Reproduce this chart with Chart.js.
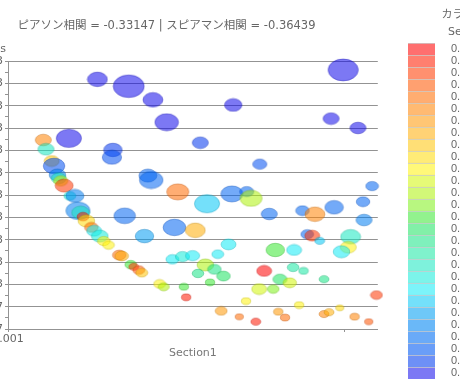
<!DOCTYPE html>
<html><head><meta charset="utf-8">
<script src="https://cdn.jsdelivr.net/npm/chart.js@4"></script>
<style>
html,body{margin:0;padding:0;background:#fff;overflow:hidden;width:460px;height:380px;position:relative}
#main{position:absolute;left:-46px;top:0}
#scale{position:absolute;left:400px;top:0}
</style></head><body>
<canvas id="main" width="435" height="380"></canvas>
<canvas id="scale" width="100" height="380"></canvas>
<script>
// ---- texts ----
const titleText = 'ピアソン相関 = -0.33147 | スピアマン相関 = -0.36439';
const xAxisTitle = 'Section1';
const yAxisTitle = 'Values';
const colorTitle = 'カラースケール';
const colorSubtitle = 'Section3';

// ---- tick labels ----
const xTickValues = [0.001, 0.011];
const xTickLabels = ['0.001', ''];
const yTickLabels = ['1.7E-7', '5.7E-7', '0.0013', '0.0023', '0.0033', '0.0043', '0.0053',
  '0.0063', '0.0073', '0.0083', '0.0093', '0.0103', '0.0113'];

// ---- series values ----
const xValues = [0.00366, 0.00459, 0.00531, 0.00572, 0.00281, 0.00672, 0.00205, 0.00213, 0.00412, 0.00409,
  0.00230, 0.00237, 0.00247, 0.00251, 0.00257, 0.00267, 0.00516, 0.00526, 0.00605, 0.01097,
  0.00770, 0.01061, 0.01141, 0.00849, 0.01183, 0.00284, 0.00299, 0.00308, 0.00316, 0.00323,
  0.00333, 0.00348, 0.00356, 0.00373, 0.00385, 0.00399, 0.00431, 0.00438, 0.00447, 0.00506,
  0.00465, 0.00474, 0.00489, 0.00498, 0.00551, 0.00563, 0.00623, 0.00630, 0.00595, 0.00657,
  0.00589, 0.00619, 0.00649, 0.00687, 0.00665, 0.00714, 0.00724, 0.00741, 0.00701, 0.00734,
  0.00692, 0.00766, 0.00810, 0.00823, 0.00877, 0.00976, 0.01013, 0.01070, 0.01156, 0.01159,
  0.00990, 0.01005, 0.01027, 0.01119, 0.01112, 0.01092, 0.00756, 0.00895, 0.00951, 0.00862,
  0.00948, 0.00979, 0.00909, 0.00938, 0.01040, 0.00847, 0.00889, 0.00808, 0.00966, 0.01087,
  0.00904, 0.00788, 0.00924, 0.00837, 0.01040, 0.01055, 0.01131, 0.01173, 0.01196];
const yValues = [11.18, 10.87, 10.26, 9.26, 8.54, 8.34, 8.46, 8.05, 8.02, 7.69,
  7.52, 7.30, 6.90, 6.75, 6.63, 6.42, 6.87, 6.67, 6.14, 11.60,
  10.03, 9.42, 9.00, 7.38, 6.40, 5.96, 5.96, 5.30, 5.21, 5.03,
  4.84, 4.55, 4.40, 4.16, 3.94, 3.76, 3.31, 3.27, 5.07, 4.16,
  2.88, 2.79, 2.64, 2.52, 2.02, 1.89, 1.89, 1.42, 4.55, 4.42,
  3.12, 3.24, 3.28, 2.87, 2.49, 2.67, 3.35, 2.37, 2.09, 0.81,
  5.61, 6.05, 6.15, 5.85, 5.15, 5.30, 5.14, 5.45, 5.70, 4.88,
  4.24, 4.18, 3.95, 4.13, 3.66, 3.46, 3.79, 3.54, 3.54, 2.60,
  2.76, 2.60, 2.23, 2.07, 2.23, 1.79, 1.79, 1.25, 1.07, 0.95,
  0.77, 0.55, 0.51, 0.33, 0.67, 0.75, 0.55, 0.33, 1.52];
const sizeValues = [7.2, 11.2, 7.2, 8.5, 9.1, 5.8, 5.8, 5.8, 6.7, 7.0,
  5.4, 7.8, 6.0, 5.4, 5.1, 6.5, 6.5, 8.5, 8.0, 10.9,
  6.3, 5.8, 5.8, 5.1, 4.6, 4.3, 6.5, 8.7, 6.5, 4.3,
  6.0, 4.9, 5.4, 6.0, 4.6, 4.2, 4.9, 4.9, 7.8, 6.7,
  4.2, 3.6, 4.3, 4.3, 4.3, 4.0, 3.4, 3.4, 8.2, 7.2,
  4.7, 5.1, 5.1, 6.0, 4.2, 4.9, 4.3, 4.9, 3.4, 4.3,
  9.1, 8.0, 5.1, 8.0, 5.8, 4.9, 7.2, 6.7, 4.9, 5.8,
  4.6, 5.4, 3.6, 7.2, 5.8, 6.0, 5.4, 6.7, 5.4, 5.4,
  4.2, 3.4, 5.1, 4.9, 3.6, 5.4, 4.2, 3.4, 3.4, 2.9,
  3.4, 3.0, 3.4, 3.6, 3.6, 3.6, 3.4, 3.0, 4.3];
const colorValues = [0, 0, 0, 0, 0, 0.03, 0.66, 0.27, 0.03, 0.06,
  0.57, 0.06, 0.12, 0.27, 0.48, 0.75, 0.09, 0.09, 0.69, 0,
  0, 0, 0, 0.06, 0.09, 0.24, 0.12, 0.12, 0.27, 0.78,
  0.54, 0.69, 0.21, 0.24, 0.51, 0.51, 0.69, 0.60, 0.09, 0.15,
  0.39, 0.75, 0.72, 0.57, 0.51, 0.45, 0.39, 0.78, 0.09, 0.60,
  0.21, 0.24, 0.21, 0.45, 0.33, 0.33, 0.21, 0.36, 0.39, 0.63,
  0.18, 0.09, 0.09, 0.45, 0.09, 0.09, 0.66, 0.09, 0.09, 0.12,
  0.09, 0.75, 0.18, 0.27, 0.51, 0.21, 0.21, 0.39, 0.21, 0.81,
  0.30, 0.30, 0.36, 0.48, 0.33, 0.48, 0.42, 0.51, 0.51, 0.54,
  0.63, 0.69, 0.69, 0.78, 0.66, 0.60, 0.66, 0.72, 0.75];

// ---- colour scale (top to bottom) ----
const legendValues = [0.81, 0.78, 0.75, 0.72, 0.69, 0.66, 0.63, 0.60, 0.57, 0.54, 0.51, 0.48, 0.45, 0.42,
  0.39, 0.36, 0.33, 0.30, 0.27, 0.24, 0.21, 0.18, 0.15, 0.12, 0.09, 0.06, 0.03, 0.00];
const legendColors = ['#ff6f6f', '#ff7f6f', '#ff906f', '#ffa070', '#ffad71', '#ffba72', '#ffc674',
  '#ffd275', '#ffdf76', '#ffeb77', '#fff879', '#e6fa77', '#d2f878', '#b8f780',
  '#92f28e', '#82f0a8', '#7ff0bc', '#7ff2cc', '#7ef2dc', '#7cf4ea', '#7cf4fa',
  '#74e0fa', '#6ec8f8', '#6ab8f8', '#6aaaf8', '#6a9ef8', '#6e90f6', '#7c78f4'];

// ---- styling ----
const FONT = "'DejaVu Sans', 'Noto Sans CJK JP', sans-serif";
const LABEL_FONT = "'Liberation Sans', Arial, sans-serif";
const GRID = '#939393';
const TEXT = '#666666';
const ELLIPSE_RATIO = 1.38;
const FILL_ALPHA = 0.55;

function hexToRgb(h) { const n = parseInt(h.slice(1), 16); return [(n >> 16) & 255, (n >> 8) & 255, n & 255]; }
function solidFor(hex) {
  return hexToRgb(hex).map(v => Math.max(0, Math.min(255, Math.round((v - 255 * (1 - FILL_ALPHA)) / FILL_ALPHA))));
}
function colorFor(value) {
  let best = 0;
  legendValues.forEach((v, i) => { if (Math.abs(v - value) < Math.abs(legendValues[best] - value)) best = i; });
  return legendColors[best];
}
function ellipseSprite(r, hex) {
  const [R, G, B] = solidFor(hex);
  const rx = r * ELLIPSE_RATIO, ry = r;
  const w = Math.ceil(rx * 2) + 2, h = Math.ceil(ry * 2) + 2;
  const cv = document.createElement('canvas'); cv.width = w; cv.height = h;
  const g = cv.getContext('2d');
  g.beginPath(); g.ellipse(w / 2, h / 2, rx, ry, 0, 0, Math.PI * 2);
  g.fillStyle = `rgba(${R},${G},${B},${FILL_ALPHA})`; g.fill();
  g.lineWidth = 1;
  g.strokeStyle = `rgba(${Math.round(R * 0.75)},${Math.round(G * 0.75)},${Math.round(B * 0.75)},0.4)`;
  g.stroke();
  return cv;
}

const bubblePoints = xValues.map((x, i) => ({ x, y: yValues[i], r: sizeValues[i] }));
const sprites = bubblePoints.map((p, i) => ellipseSprite(p.r, colorFor(colorValues[i])));

const yAxisTitlePlugin = {
  id: 'yAxisTitle',
  afterDraw(chart) {
    const { ctx, chartArea } = chart;
    ctx.save();
    ctx.font = `11px ${FONT}`; ctx.fillStyle = TEXT;
    ctx.textAlign = 'right'; ctx.textBaseline = 'alphabetic';
    ctx.fillText(yAxisTitle, chartArea.left - 2, chartArea.top - 9.5);
    ctx.restore();
  }
};

new Chart(document.getElementById('main'), {
  type: 'bubble',
  data: { datasets: [{
    data: bubblePoints,
    pointStyle: ctx => sprites[ctx.dataIndex] || 'circle',
    backgroundColor: 'rgba(0,0,0,0)', borderWidth: 0, clip: false
  }] },
  options: {
    responsive: false, animation: false, events: [],
    layout: { padding: { left: 0, right: 10, top: 0, bottom: 11 } },
    plugins: {
      legend: { display: false }, tooltip: { enabled: false },
      title: { display: true, text: titleText, color: TEXT,
        font: { family: FONT, size: 11.5, weight: 'normal' },
        padding: { top: 19.4, bottom: 27.8 } }
    },
    scales: {
      x: {
        type: 'linear', min: 0.001, max: 0.012,
        afterFit(s) { s.height = 40; },
        afterBuildTicks(s) { s.ticks = xTickValues.map(v => ({ value: v })); },
        ticks: { autoSkip: false, maxRotation: 0, padding: 1, color: TEXT,
          font: { family: FONT, size: 11 }, callback: (v, i) => xTickLabels[i] },
        grid: { drawOnChartArea: false, drawTicks: true, tickLength: 3, color: GRID, tickColor: GRID },
        border: { display: true, color: GRID },
        title: { display: true, text: xAxisTitle, color: '#777777',
          font: { family: FONT, size: 11 }, padding: { top: 0, bottom: 9.7 } }
      },
      y: {
        type: 'linear', min: 0, max: 12,
        afterFit(s) { s.width = 54; },
        ticks: { stepSize: 0.5, autoSkip: false, padding: 2, color: TEXT,
          font: { family: FONT, size: 11 },
          callback: v => Number.isInteger(v) ? yTickLabels[v] : '' },
        grid: { color: c => (c.tick && Number.isInteger(c.tick.value)) ? GRID : 'rgba(0,0,0,0)',
          tickColor: GRID, tickLength: 3, drawTicks: true },
        border: { display: true, color: GRID }
      }
    }
  },
  plugins: [yAxisTitlePlugin]
});

const colorHeaderPlugin = {
  id: 'colorHeader',
  afterDraw(chart) {
    const { ctx, chartArea } = chart;
    ctx.save();
    ctx.fillStyle = TEXT; ctx.textAlign = 'left'; ctx.textBaseline = 'middle';
    ctx.font = `11px ${FONT}`;
    ctx.fillText(colorTitle, chartArea.right + 6.5, 15);
    ctx.fillText(colorSubtitle, chartArea.right + 13, 32);
    ctx.restore();
  }
};

new Chart(document.getElementById('scale'), {
  type: 'bar',
  data: {
    labels: legendValues.map(v => v.toFixed(2)),
    datasets: [{
      data: legendValues.map(() => 1),
      backgroundColor: legendColors,
      borderColor: 'rgba(140,140,140,0.45)',
      borderWidth: { top: 1, right: 0, bottom: 0, left: 0 },
      borderSkipped: false, barPercentage: 1, categoryPercentage: 1
    }]
  },
  options: {
    indexAxis: 'y', responsive: false, animation: false, events: [],
    layout: { padding: { left: 8, right: 0, top: 43, bottom: 1 } },
    plugins: { legend: { display: false }, tooltip: { enabled: false } },
    scales: {
      x: { display: false, min: 0, max: 1 },
      y: {
        position: 'right',
        afterFit(s) { s.width = 65; s.paddingTop = 0; s.paddingBottom = 0; },
        ticks: { padding: 16, color: TEXT, font: { family: LABEL_FONT, size: 11 }, autoSkip: false },
        grid: { display: false, drawTicks: false },
        border: { display: false }
      }
    }
  },
  plugins: [colorHeaderPlugin]
});
</script>
</body></html>
